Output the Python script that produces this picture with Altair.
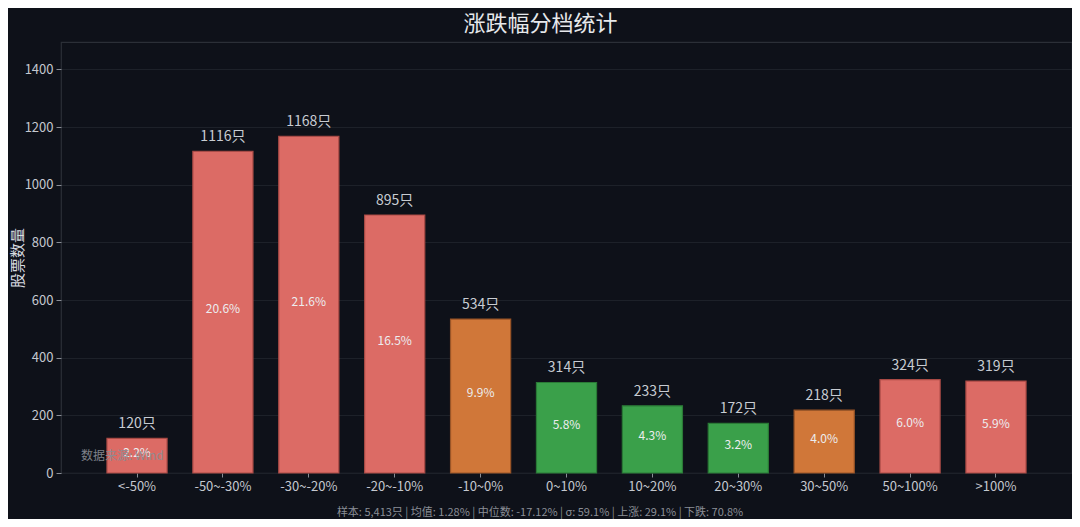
import altair as alt
import pandas as pd

categories = ["<-50%", "-50~-30%", "-30~-20%", "-20~-10%", "-10~0%", "0~10%",
              "10~20%", "20~30%", "30~50%", "50~100%", ">100%"]
counts = [120, 1116, 1168, 895, 534, 314, 233, 172, 218, 324, 319]
pcts = [2.2, 20.6, 21.6, 16.5, 9.9, 5.8, 4.3, 3.2, 4.0, 6.0, 5.9]
groups = ["a", "a", "a", "a", "b", "c", "c", "c", "b", "a", "a"]
group_names = ["a", "b", "c"]
group_fill = ["#dc6b65", "#d07739", "#3aa04a"]
group_stroke = ["#a94a45", "#9a5527", "#2a7a36"]

title_text = "涨跌幅分档统计"
footer_text = "样本: 5,413只 | 均值: 1.28% | 中位数: -17.12% | σ: 59.1% | 上涨: 29.1% | 下跌: 70.8%"
source_text = "数据来源: Wind"

df = pd.DataFrame({
    "cat": categories,
    "count": counts,
    "half": [c / 2 for c in counts],
    "pct": [f"{p:.1f}%" for p in pcts],
    "lab": [f"{c}只" for c in counts],
    "grp": groups,
})

FONT = "Noto Sans CJK SC"
W, H = 1011, 431

x = alt.X("cat:N", sort=categories, title=None,
          scale=alt.Scale(paddingInner=0.30, paddingOuter=0.535),
          axis=alt.Axis(labelAngle=0, labelColor="#c4c8cf", labelFontSize=13,
                        labelFont=FONT, tickColor="#8a8e96", tickSize=4,
                        labelPadding=3, domain=False, grid=False))
yscale = alt.Scale(domain=[0, 1495], nice=False)

bars = alt.Chart(df).mark_bar(strokeWidth=1.2).encode(
    x=x,
    y=alt.Y("count:Q", scale=yscale, title="股票数量",
            axis=alt.Axis(values=[0, 200, 400, 600, 800, 1000, 1200, 1400], format="d",
                          labelColor="#c4c8cf", labelFontSize=13, labelFont=FONT,
                          tickColor="#8a8e96", tickSize=5, labelPadding=3,
                          domain=False, gridColor="#1d2129", gridWidth=1,
                          titleColor="#d8dbe0", titleFontSize=15, titleFont=FONT,
                          titleFontWeight="normal", titleX=-44, titleY=H / 2,
                          titleBaseline="middle", titleAngle=270)),
    color=alt.Color("grp:N", scale=alt.Scale(domain=group_names, range=group_fill), legend=None),
    stroke=alt.Stroke("grp:N", scale=alt.Scale(domain=group_names, range=group_stroke), legend=None),
)

top_labels = alt.Chart(df).mark_text(baseline="middle", dy=-14, fontSize=14,
                                     color="#c8ccd2", font=FONT).encode(
    x=alt.X("cat:N", sort=categories),
    y=alt.Y("count:Q", scale=yscale),
    text="lab:N",
)

mid_labels = alt.Chart(df).mark_text(baseline="middle", dy=-3, fontSize=12,
                                     color="#ecedef", font=FONT).encode(
    x=alt.X("cat:N", sort=categories),
    y=alt.Y("half:Q", scale=yscale),
    text="pct:N",
)

source = alt.Chart(pd.DataFrame({"t": [source_text]})).mark_text(
    align="left", baseline="middle", fontSize=12, color="#8a8e96", font=FONT, opacity=0.9
).encode(x=alt.value(20), y=alt.value(414), text="t:N")

footer = alt.Chart(pd.DataFrame({"t": [footer_text]})).mark_text(
    align="center", baseline="middle", fontSize=11, color="#8a8e96", font=FONT
).encode(x=alt.value(479), y=alt.value(471), text="t:N")

chart = alt.layer(bars, top_labels, mid_labels, source, footer).properties(
    width=W, height=H,
    title=alt.TitleParams(title_text, fontSize=22, color="#e6e8eb", font=FONT,
                          fontWeight="normal", anchor="middle", dx=-26, offset=6),
    background="#0e1119",
    padding={"left": 53, "top": 34, "right": 0, "bottom": 46},
    autosize=alt.AutoSizeParams(type="none"),
).configure_view(stroke="#2b2f37", strokeWidth=1.2)

chart.save("out.html", embed_options={"renderer": "svg", "actions": False})
